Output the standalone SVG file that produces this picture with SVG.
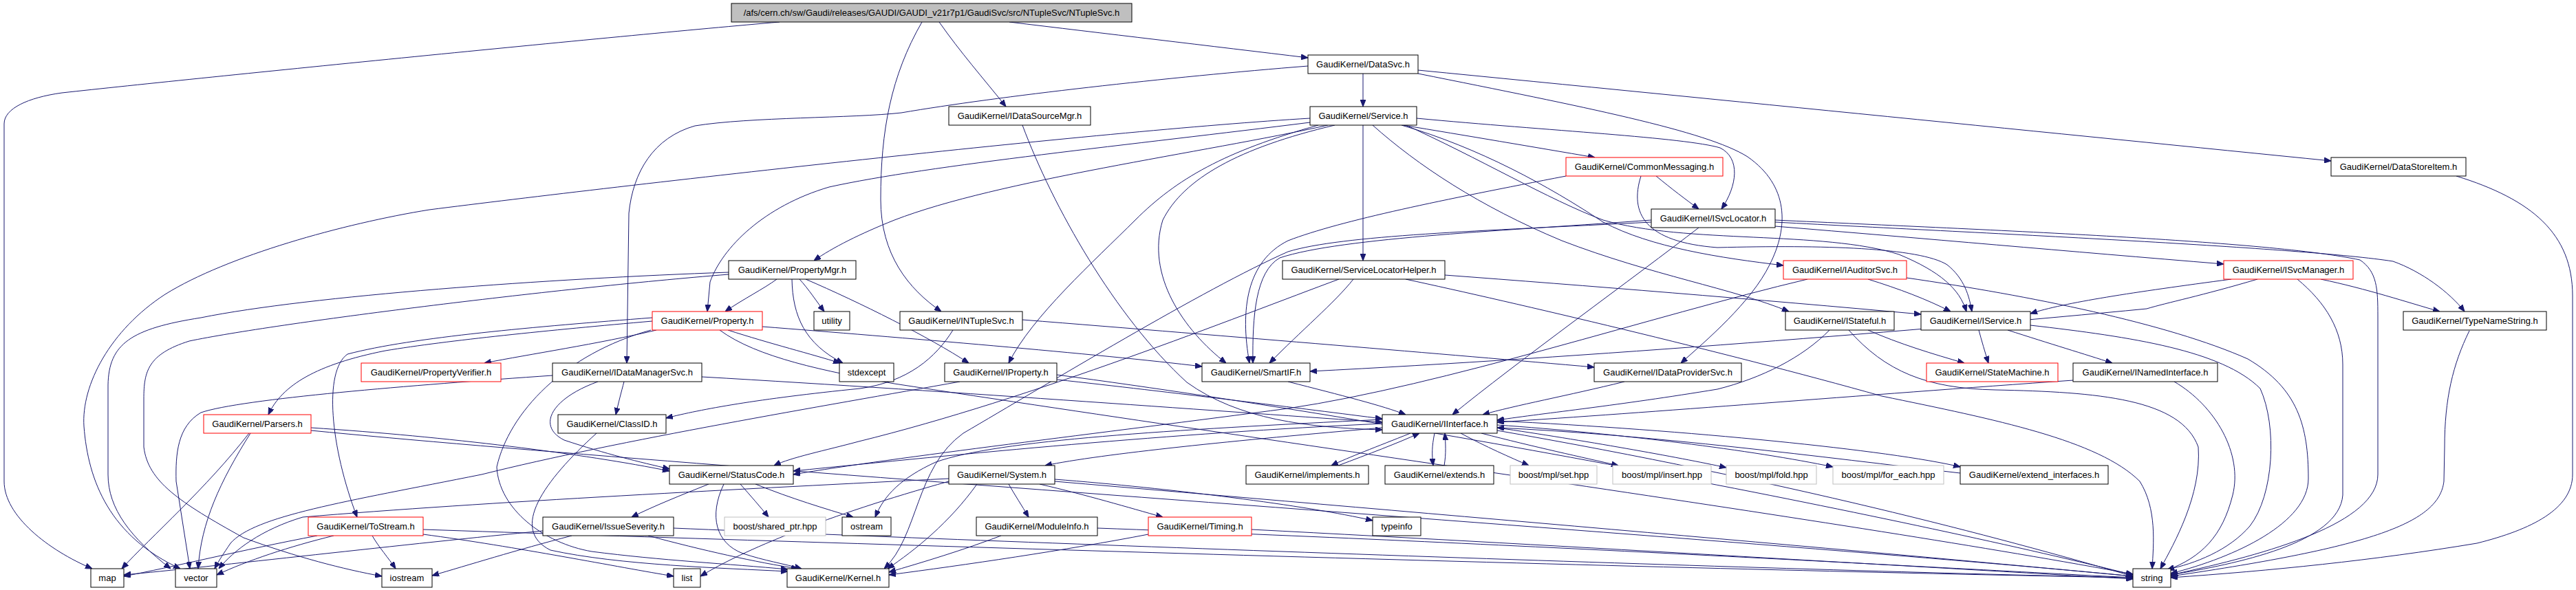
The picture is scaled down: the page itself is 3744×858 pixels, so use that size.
<svg xmlns="http://www.w3.org/2000/svg" width="3744" height="858" viewBox="0 0 3744 858">
<style>
.nd rect{fill:#fff;stroke:#000;stroke-width:1}
.nd.r rect{stroke:#ff0000}
.nd.g rect{stroke:#bfbfbf}
.nd.m rect{fill:#bfbfbf}
.nd text{font-family:"Liberation Sans",Arial,sans-serif;font-size:13px;text-anchor:middle;fill:#000}
#edges path{fill:none;stroke:#191970;stroke-width:1;marker-end:url(#a)}
</style>
<defs>
<marker id="a" viewBox="0 0 10 8" refX="10" refY="4" markerWidth="10" markerHeight="8" markerUnits="userSpaceOnUse" orient="auto"><path d="M0,0 L10,4 L0,8 z" fill="#191970" stroke="#191970"/></marker>
</defs>
<rect width="3744" height="858" fill="#fff"/>
<g id="edges">
<path d="M1133,32 C900,52 300,112 90,135 C40,142 6,158 6,180 L6,700 C6,750 70,800 134,827"/>
<path d="M1467,32 C1600,48 1760,67 1901,84"/>
<path d="M1365,32 C1395,75 1430,115 1462,155"/>
<path d="M1340,32 C1295,110 1280,190 1280,290 C1280,370 1320,420 1368,453"/>
<path d="M1981,107 L1981,155"/>
<path d="M1901,96 C1700,112 1450,140 1310,164 C1240,172 1090,170 1010,183 C950,200 920,250 914,310 L911,528"/>
<path d="M2061,102 C2500,145 3000,195 3388,234"/>
<path d="M2061,107 C2300,155 2480,190 2540,228 C2600,270 2600,330 2572,385 C2545,440 2480,495 2443,528"/>
<path d="M2039,182 C2130,197 2230,214 2318,229"/>
<path d="M1981,182 L1981,379"/>
<path d="M1904,172 C1600,190 900,270 624,305 C500,325 330,372 240,428 C160,480 118,560 122,620 C128,700 160,780 262,827"/>
<path d="M1930,182 C1750,222 1450,262 1300,320 C1250,340 1210,360 1183,379"/>
<path d="M1904,178 C1650,210 1350,240 1205,272 C1110,300 1050,360 1032,410 L1028,453"/>
<path d="M1916,182 C1780,220 1710,260 1650,320 C1590,380 1500,460 1466,528"/>
<path d="M1940,182 C1800,215 1720,260 1690,320 C1665,400 1720,480 1782,528"/>
<path d="M1995,182 C2060,240 2150,300 2270,350 C2400,400 2520,420 2600,453"/>
<path d="M2039,180 C2150,230 2250,290 2330,320 C2450,355 2650,335 2760,370 C2820,395 2848,420 2858,453"/>
<path d="M2385,256 C2368,310 2390,352 2496,360 C2650,356 2790,360 2830,385 C2855,405 2862,430 2866,453"/>
<path d="M2407,256 C2430,275 2450,290 2469,304"/>
<path d="M2276,256 C2100,290 1950,320 1872,350 C1812,380 1802,450 1816,528"/>
<path d="M2059,172 C2250,190 2450,200 2500,215 C2530,230 2525,270 2502,304"/>
<path d="M2037,182 C2150,215 2250,270 2330,323 C2400,360 2500,375 2592,386"/>
<path d="M2100,400 C2300,415 2550,435 2792,457"/>
<path d="M1967,406 C1940,440 1890,482 1845,528"/>
<path d="M2043,406 C2200,440 2500,510 2735,576 C2900,610 3050,640 3110,700 C3135,740 3130,790 3128,827"/>
<path d="M1946,406 C1800,460 1500,580 1248,642 C1200,655 1150,665 1125,677"/>
<path d="M2580,329 C2800,347 3000,365 3232,384"/>
<path d="M2580,320 C2900,335 3300,350 3430,378 C3455,395 3456,420 3456,460 L3456,690 C3456,760 3300,805 3155,836"/>
<path d="M2580,323 C2900,340 3350,360 3478,380 C3520,395 3560,425 3582,453"/>
<path d="M2469,331 C2380,400 2200,530 2111,603"/>
<path d="M2400,320 C2200,335 1950,345 1860,375 C1825,395 1820,460 1821,528"/>
<path d="M2400,323 C2150,336 1950,342 1872,366 C1750,420 1520,560 1400,630 C1330,680 1335,780 1285,827"/>
<path d="M1059,396 C800,405 450,430 292,462 C190,478 158,500 157,560 L157,690 C157,740 190,782 248,827"/>
<path d="M1059,399 C800,420 400,470 275,496 C215,515 209,540 209,580 L209,650 C215,700 260,730 354,782 C430,810 500,828 555,838"/>
<path d="M1129,406 C1110,420 1080,435 1054,453"/>
<path d="M1162,406 C1175,420 1188,440 1198,453"/>
<path d="M1151,406 C1152,460 1170,500 1225,528"/>
<path d="M1171,406 C1250,440 1350,490 1408,528"/>
<path d="M954,480 C870,500 770,515 704,528"/>
<path d="M948,467 C800,480 650,495 560,510 C460,530 410,560 390,603"/>
<path d="M948,462 C780,475 600,490 505,515 C470,540 480,650 519,752"/>
<path d="M1108,475 C1300,490 1600,515 1747,533"/>
<path d="M1058,480 C1120,500 1180,515 1221,528"/>
<path d="M1046,480 C1100,520 1200,540 1300,558 C1900,650 2700,760 3100,835"/>
<path d="M946,480 C820,515 740,600 722,679 C725,740 790,790 860,802 C960,815 1060,820 1145,828"/>
<path d="M907,555 C903,570 899,585 895,603"/>
<path d="M803,546 C600,560 350,580 292,600 C258,620 255,660 256,700 L276,827"/>
<path d="M1020,548 C1400,570 1800,600 2009,614"/>
<path d="M869,555 C800,580 780,620 820,640 C880,660 930,672 973,682"/>
<path d="M867,630 C790,700 740,770 800,800 C900,822 1050,826 1145,831"/>
<path d="M362,630 C300,710 220,780 177,827"/>
<path d="M364,630 C320,700 292,760 288,827"/>
<path d="M452,622 C650,635 850,660 973,685"/>
<path d="M452,626 C1000,680 2500,780 3100,838"/>
<path d="M461,779 C350,800 250,825 180,838"/>
<path d="M485,779 C420,795 360,815 315,836"/>
<path d="M541,779 C550,795 565,812 575,827"/>
<path d="M615,777 C750,795 900,825 979,838"/>
<path d="M615,770 C1200,790 2500,830 3100,840"/>
<path d="M789,772 C600,790 300,825 180,836"/>
<path d="M831,779 C750,800 680,822 628,837"/>
<path d="M942,779 C1020,800 1100,818 1160,827"/>
<path d="M979,768 C1500,790 2600,830 3100,840"/>
<path d="M1030,704 C990,720 950,736 918,752"/>
<path d="M1076,704 C1090,720 1105,737 1117,752"/>
<path d="M1098,704 C1150,725 1200,740 1240,752"/>
<path d="M1052,704 C1030,750 1040,790 1080,805 C1110,815 1140,820 1165,827"/>
<path d="M2009,622 C1800,640 1600,660 1519,677"/>
<path d="M2009,616 C1700,630 1400,660 1153,685"/>
<path d="M2050,630 C2000,650 1960,665 1935,677"/>
<path d="M1945,677 C1990,660 2030,645 2063,630"/>
<path d="M2085,630 C2081,650 2081,660 2083,677"/>
<path d="M2099,677 C2102,660 2101,645 2100,630"/>
<path d="M2123,630 C2160,650 2195,665 2222,677"/>
<path d="M2153,630 C2230,650 2300,665 2352,677"/>
<path d="M2176,622 C2300,640 2440,665 2509,680"/>
<path d="M2176,618 C2350,630 2550,655 2664,679"/>
<path d="M2176,612 C2450,625 2750,655 2849,679"/>
<path d="M2849,688 C2650,665 2400,632 2176,622"/>
<path d="M2176,626 C2600,700 2900,780 3100,838"/>
<path d="M2009,610 C1700,625 1450,640 1360,672 C1310,695 1285,720 1272,752"/>
<path d="M1466,704 C1475,720 1485,735 1495,752"/>
<path d="M1511,704 C1580,720 1640,738 1690,752"/>
<path d="M1533,697 C1700,710 1900,735 1995,757"/>
<path d="M1533,700 C2000,740 2700,800 3100,838"/>
<path d="M1379,696 C1100,710 700,730 440,752 C380,770 340,800 318,827"/>
<path d="M1420,704 C1380,760 1330,800 1290,827"/>
<path d="M1379,700 C1200,750 1080,800 1018,838"/>
<path d="M1455,779 C1400,800 1340,818 1292,832"/>
<path d="M1595,768 C2200,790 2800,825 3100,840"/>
<path d="M1669,777 C1550,800 1400,822 1292,836"/>
<path d="M1819,770 C2300,795 2800,825 3100,842"/>
<path d="M1536,552 C1700,570 1900,595 2009,609"/>
<path d="M1395,555 C1200,590 900,640 700,690 C500,730 370,750 335,790 C325,805 318,815 312,827"/>
<path d="M1536,545 C2100,620 2800,760 3100,836"/>
<path d="M1486,465 C1800,490 2100,515 2317,534"/>
<path d="M1385,480 C1360,520 1320,555 1250,565 C1100,580 1020,595 968,608"/>
<path d="M1486,182 C1530,300 1620,460 1725,556 C1800,610 1900,622 2009,625"/>
<path d="M2361,555 C2280,575 2200,590 2155,603"/>
<path d="M1872,555 C1950,575 2010,590 2043,603"/>
<path d="M2715,480 C2760,500 2810,515 2855,528"/>
<path d="M2659,480 C2620,520 2560,550 2496,566 C2350,590 2250,600 2176,611"/>
<path d="M2687,480 C2740,540 2800,565 2900,567 C3050,570 3170,580 3195,650 C3200,720 3160,790 3140,827"/>
<path d="M2876,480 C2880,495 2885,512 2890,528"/>
<path d="M2918,480 C2980,500 3030,515 3070,528"/>
<path d="M2951,473 C3100,490 3230,510 3285,565 C3310,620 3305,720 3270,765 C3240,800 3190,820 3150,828"/>
<path d="M3013,553 C2700,575 2400,600 2176,614"/>
<path d="M3160,555 C3220,590 3260,660 3245,720 C3230,780 3200,810 3150,829"/>
<path d="M2715,406 C2760,420 2800,435 2835,453"/>
<path d="M2771,404 C2950,430 3150,470 3267,522 C3340,565 3355,620 3355,696 C3355,760 3250,810 3155,834"/>
<path d="M2627,406 C2400,460 2100,560 1872,594 C1600,630 1300,665 1153,690"/>
<path d="M3243,406 C3100,425 3000,440 2951,456"/>
<path d="M3281,406 C3200,430 3150,440 3120,449 C2800,480 2300,520 1904,540"/>
<path d="M3339,406 C3380,440 3405,480 3405,530 L3405,720 C3400,790 3250,820 3155,836"/>
<path d="M3373,406 C3440,420 3500,440 3546,453"/>
<path d="M3570,256 C3680,290 3739,340 3739,430 L3739,690 C3739,740 3680,770 3600,790 C3450,815 3300,830 3155,840"/>
<path d="M3589,481 C3565,530 3553,580 3553,650 L3552,700 C3545,760 3450,795 3155,838"/>
</g>
<g id="n0" class="nd m"><rect x="1063" y="5" width="582" height="27"/><text x="1354" y="23">/afs/cern.ch/sw/Gaudi/releases/GAUDI/GAUDI_v21r7p1/GaudiSvc/src/NTupleSvc/NTupleSvc.h</text></g>
<g id="n1" class="nd"><rect x="1901" y="80" width="160" height="27"/><text x="1981" y="98">GaudiKernel/DataSvc.h</text></g>
<g id="n2" class="nd"><rect x="1379" y="155" width="206" height="27"/><text x="1482" y="173">GaudiKernel/IDataSourceMgr.h</text></g>
<g id="n3" class="nd"><rect x="1904" y="155" width="155" height="27"/><text x="1981.5" y="173">GaudiKernel/Service.h</text></g>
<g id="n4" class="nd r"><rect x="2276" y="229" width="228" height="27"/><text x="2390" y="247">GaudiKernel/CommonMessaging.h</text></g>
<g id="n5" class="nd"><rect x="3388" y="229" width="196" height="27"/><text x="3486" y="247">GaudiKernel/DataStoreItem.h</text></g>
<g id="n6" class="nd"><rect x="2400" y="304" width="180" height="27"/><text x="2490" y="322">GaudiKernel/ISvcLocator.h</text></g>
<g id="n7" class="nd"><rect x="1059" y="379" width="185" height="27"/><text x="1151.5" y="397">GaudiKernel/PropertyMgr.h</text></g>
<g id="n8" class="nd"><rect x="1864" y="379" width="236" height="27"/><text x="1982" y="397">GaudiKernel/ServiceLocatorHelper.h</text></g>
<g id="n9" class="nd r"><rect x="2592" y="379" width="179" height="27"/><text x="2681.5" y="397">GaudiKernel/IAuditorSvc.h</text></g>
<g id="n10" class="nd r"><rect x="3232" y="379" width="188" height="27"/><text x="3326" y="397">GaudiKernel/ISvcManager.h</text></g>
<g id="n11" class="nd r"><rect x="948" y="453" width="160" height="27"/><text x="1028" y="471">GaudiKernel/Property.h</text></g>
<g id="n12" class="nd"><rect x="1183" y="453" width="52" height="27"/><text x="1209" y="471">utility</text></g>
<g id="n13" class="nd"><rect x="1308" y="453" width="178" height="27"/><text x="1397" y="471">GaudiKernel/INTupleSvc.h</text></g>
<g id="n14" class="nd"><rect x="2595" y="453" width="158" height="27"/><text x="2674" y="471">GaudiKernel/IStateful.h</text></g>
<g id="n15" class="nd"><rect x="2792" y="453" width="159" height="27"/><text x="2871.5" y="471">GaudiKernel/IService.h</text></g>
<g id="n16" class="nd"><rect x="3493" y="453" width="208" height="27"/><text x="3597" y="471">GaudiKernel/TypeNameString.h</text></g>
<g id="n17" class="nd r"><rect x="525" y="528" width="203" height="27"/><text x="626.5" y="546">GaudiKernel/PropertyVerifier.h</text></g>
<g id="n18" class="nd"><rect x="803" y="528" width="217" height="27"/><text x="911.5" y="546">GaudiKernel/IDataManagerSvc.h</text></g>
<g id="n19" class="nd"><rect x="1220" y="528" width="79" height="27"/><text x="1259.5" y="546">stdexcept</text></g>
<g id="n20" class="nd"><rect x="1373" y="528" width="163" height="27"/><text x="1454.5" y="546">GaudiKernel/IProperty.h</text></g>
<g id="n21" class="nd"><rect x="1747" y="528" width="157" height="27"/><text x="1825.5" y="546">GaudiKernel/SmartIF.h</text></g>
<g id="n22" class="nd"><rect x="2317" y="528" width="214" height="27"/><text x="2424" y="546">GaudiKernel/IDataProviderSvc.h</text></g>
<g id="n23" class="nd r"><rect x="2800" y="528" width="191" height="27"/><text x="2895.5" y="546">GaudiKernel/StateMachine.h</text></g>
<g id="n24" class="nd"><rect x="3013" y="528" width="210" height="27"/><text x="3118" y="546">GaudiKernel/INamedInterface.h</text></g>
<g id="n25" class="nd r"><rect x="296" y="603" width="156" height="27"/><text x="374" y="621">GaudiKernel/Parsers.h</text></g>
<g id="n26" class="nd"><rect x="811" y="603" width="157" height="27"/><text x="889.5" y="621">GaudiKernel/ClassID.h</text></g>
<g id="n27" class="nd"><rect x="2009" y="603" width="167" height="27"/><text x="2092.5" y="621">GaudiKernel/IInterface.h</text></g>
<g id="n28" class="nd"><rect x="973" y="677" width="180" height="27"/><text x="1063" y="695">GaudiKernel/StatusCode.h</text></g>
<g id="n29" class="nd"><rect x="1379" y="677" width="154" height="27"/><text x="1456" y="695">GaudiKernel/System.h</text></g>
<g id="n30" class="nd"><rect x="1811" y="677" width="178" height="27"/><text x="1900" y="695">GaudiKernel/implements.h</text></g>
<g id="n31" class="nd"><rect x="2013" y="677" width="158" height="27"/><text x="2092" y="695">GaudiKernel/extends.h</text></g>
<g id="n32" class="nd g"><rect x="2195" y="677" width="126" height="27"/><text x="2258" y="695">boost/mpl/set.hpp</text></g>
<g id="n33" class="nd g"><rect x="2344" y="677" width="143" height="27"/><text x="2415.5" y="695">boost/mpl/insert.hpp</text></g>
<g id="n34" class="nd g"><rect x="2509" y="677" width="131" height="27"/><text x="2574.5" y="695">boost/mpl/fold.hpp</text></g>
<g id="n35" class="nd g"><rect x="2664" y="677" width="161" height="27"/><text x="2744.5" y="695">boost/mpl/for_each.hpp</text></g>
<g id="n36" class="nd"><rect x="2849" y="677" width="215" height="27"/><text x="2956.5" y="695">GaudiKernel/extend_interfaces.h</text></g>
<g id="n37" class="nd r"><rect x="448" y="752" width="167" height="27"/><text x="531.5" y="770">GaudiKernel/ToStream.h</text></g>
<g id="n38" class="nd"><rect x="789" y="752" width="190" height="27"/><text x="884" y="770">GaudiKernel/IssueSeverity.h</text></g>
<g id="n39" class="nd g"><rect x="1053" y="752" width="147" height="27"/><text x="1126.5" y="770">boost/shared_ptr.hpp</text></g>
<g id="n40" class="nd"><rect x="1224" y="752" width="71" height="27"/><text x="1259.5" y="770">ostream</text></g>
<g id="n41" class="nd"><rect x="1419" y="752" width="176" height="27"/><text x="1507" y="770">GaudiKernel/ModuleInfo.h</text></g>
<g id="n42" class="nd r"><rect x="1669" y="752" width="150" height="27"/><text x="1744" y="770">GaudiKernel/Timing.h</text></g>
<g id="n43" class="nd"><rect x="1995" y="752" width="70" height="27"/><text x="2030" y="770">typeinfo</text></g>
<g id="n44" class="nd"><rect x="132" y="827" width="48" height="27"/><text x="156" y="845">map</text></g>
<g id="n45" class="nd"><rect x="255" y="827" width="60" height="27"/><text x="285" y="845">vector</text></g>
<g id="n46" class="nd"><rect x="555" y="827" width="73" height="27"/><text x="591.5" y="845">iostream</text></g>
<g id="n47" class="nd"><rect x="979" y="827" width="39" height="27"/><text x="998.5" y="845">list</text></g>
<g id="n48" class="nd"><rect x="1144" y="827" width="148" height="27"/><text x="1218" y="845">GaudiKernel/Kernel.h</text></g>
<g id="n49" class="nd"><rect x="3100" y="827" width="55" height="27"/><text x="3127.5" y="845">string</text></g>
</svg>
